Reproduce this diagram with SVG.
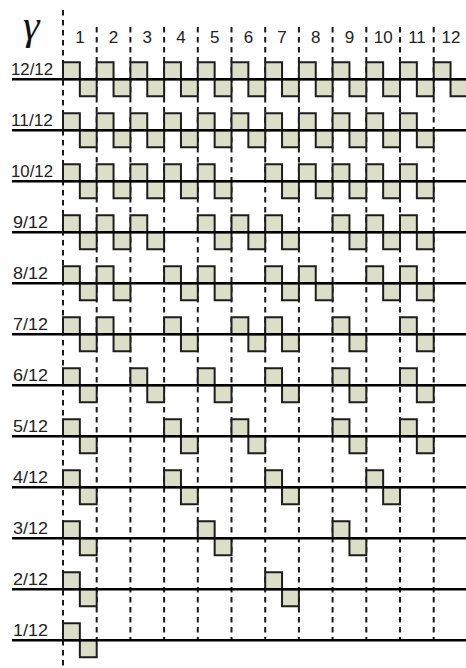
<svg xmlns="http://www.w3.org/2000/svg" xmlns:xlink="http://www.w3.org/1999/xlink" width="466" height="668" viewBox="0 0 466 668">
<style>
.dash{stroke:#1a1a1a;stroke-width:2;stroke-dasharray:5.5 4.5;fill:none}
.base{stroke:#000;stroke-width:2.5;fill:none}
.lbl{font-family:"Liberation Sans",Arial,sans-serif;font-size:16.5px;fill:#222}
.num{font-family:"Liberation Sans",Arial,sans-serif;font-size:17px;fill:#222;text-anchor:middle}
.gam{font-family:"Liberation Serif","Times New Roman",serif;font-style:italic;font-size:42px;fill:#111}
</style>
<defs>
<path id="p" d="M0,0 V-17 H16.85 V17 H33.7 V0 Z" fill="#dcdec8" stroke="#1e1e1e" stroke-width="2" stroke-linejoin="miter"/>
</defs>
<rect width="466" height="668" fill="#fff"/>
<g id="grid">
<line class="dash" x1="63" y1="10" x2="63" y2="668"/>
<line class="dash" x1="96.7" y1="27" x2="96.7" y2="640"/>
<line class="dash" x1="130.4" y1="27" x2="130.4" y2="640"/>
<line class="dash" x1="164.1" y1="27" x2="164.1" y2="640"/>
<line class="dash" x1="197.8" y1="27" x2="197.8" y2="640"/>
<line class="dash" x1="231.5" y1="27" x2="231.5" y2="640"/>
<line class="dash" x1="265.2" y1="27" x2="265.2" y2="640"/>
<line class="dash" x1="298.9" y1="27" x2="298.9" y2="640"/>
<line class="dash" x1="332.6" y1="27" x2="332.6" y2="640"/>
<line class="dash" x1="366.3" y1="27" x2="366.3" y2="640"/>
<line class="dash" x1="400" y1="27" x2="400" y2="640"/>
<line class="dash" x1="433.7" y1="27" x2="433.7" y2="640"/>
</g>
<g id="header">
<text class="gam" x="23" y="39">γ</text>
<text class="num" x="79.9" y="42.5">1</text>
<text class="num" x="113.6" y="42.5">2</text>
<text class="num" x="147.3" y="42.5">3</text>
<text class="num" x="181" y="42.5">4</text>
<text class="num" x="214.7" y="42.5">5</text>
<text class="num" x="248.4" y="42.5">6</text>
<text class="num" x="282.1" y="42.5">7</text>
<text class="num" x="315.8" y="42.5">8</text>
<text class="num" x="349.5" y="42.5">9</text>
<text class="num" x="383.2" y="42.5">10</text>
<text class="num" x="417" y="42.5">11</text>
<text class="num" x="451" y="42.5">12</text>
</g>
<g id="row12">
<use xlink:href="#p" x="63" y="79.2"/><use xlink:href="#p" x="96.7" y="79.2"/><use xlink:href="#p" x="130.4" y="79.2"/><use xlink:href="#p" x="164.1" y="79.2"/><use xlink:href="#p" x="197.8" y="79.2"/><use xlink:href="#p" x="231.5" y="79.2"/><use xlink:href="#p" x="265.2" y="79.2"/><use xlink:href="#p" x="298.9" y="79.2"/><use xlink:href="#p" x="332.6" y="79.2"/><use xlink:href="#p" x="366.3" y="79.2"/><use xlink:href="#p" x="400" y="79.2"/><use xlink:href="#p" x="433.7" y="79.2"/>
<line class="base" x1="12" y1="79.2" x2="466" y2="79.2"/>
<text class="lbl" x="11" y="75" textLength="42" lengthAdjust="spacingAndGlyphs">12/12</text>
</g>
<g id="row11">
<use xlink:href="#p" x="63" y="130.2"/><use xlink:href="#p" x="96.7" y="130.2"/><use xlink:href="#p" x="130.4" y="130.2"/><use xlink:href="#p" x="164.1" y="130.2"/><use xlink:href="#p" x="197.8" y="130.2"/><use xlink:href="#p" x="231.5" y="130.2"/><use xlink:href="#p" x="265.2" y="130.2"/><use xlink:href="#p" x="298.9" y="130.2"/><use xlink:href="#p" x="332.6" y="130.2"/><use xlink:href="#p" x="366.3" y="130.2"/><use xlink:href="#p" x="400" y="130.2"/>
<line class="base" x1="12" y1="130.2" x2="466" y2="130.2"/>
<text class="lbl" x="11" y="126" textLength="42" lengthAdjust="spacingAndGlyphs">11/12</text>
</g>
<g id="row10">
<use xlink:href="#p" x="63" y="181.2"/><use xlink:href="#p" x="96.7" y="181.2"/><use xlink:href="#p" x="130.4" y="181.2"/><use xlink:href="#p" x="164.1" y="181.2"/><use xlink:href="#p" x="197.8" y="181.2"/><use xlink:href="#p" x="265.2" y="181.2"/><use xlink:href="#p" x="298.9" y="181.2"/><use xlink:href="#p" x="332.6" y="181.2"/><use xlink:href="#p" x="366.3" y="181.2"/><use xlink:href="#p" x="400" y="181.2"/>
<line class="base" x1="12" y1="181.2" x2="466" y2="181.2"/>
<text class="lbl" x="11" y="177" textLength="42" lengthAdjust="spacingAndGlyphs">10/12</text>
</g>
<g id="row9">
<use xlink:href="#p" x="63" y="232.2"/><use xlink:href="#p" x="96.7" y="232.2"/><use xlink:href="#p" x="130.4" y="232.2"/><use xlink:href="#p" x="197.8" y="232.2"/><use xlink:href="#p" x="231.5" y="232.2"/><use xlink:href="#p" x="265.2" y="232.2"/><use xlink:href="#p" x="332.6" y="232.2"/><use xlink:href="#p" x="366.3" y="232.2"/><use xlink:href="#p" x="400" y="232.2"/>
<line class="base" x1="12" y1="232.2" x2="466" y2="232.2"/>
<text class="lbl" x="13" y="228" textLength="35" lengthAdjust="spacingAndGlyphs">9/12</text>
</g>
<g id="row8">
<use xlink:href="#p" x="63" y="283.2"/><use xlink:href="#p" x="96.7" y="283.2"/><use xlink:href="#p" x="164.1" y="283.2"/><use xlink:href="#p" x="197.8" y="283.2"/><use xlink:href="#p" x="265.2" y="283.2"/><use xlink:href="#p" x="298.9" y="283.2"/><use xlink:href="#p" x="366.3" y="283.2"/><use xlink:href="#p" x="400" y="283.2"/>
<line class="base" x1="12" y1="283.2" x2="466" y2="283.2"/>
<text class="lbl" x="13" y="279" textLength="35" lengthAdjust="spacingAndGlyphs">8/12</text>
</g>
<g id="row7">
<use xlink:href="#p" x="63" y="334.2"/><use xlink:href="#p" x="96.7" y="334.2"/><use xlink:href="#p" x="164.1" y="334.2"/><use xlink:href="#p" x="231.5" y="334.2"/><use xlink:href="#p" x="265.2" y="334.2"/><use xlink:href="#p" x="332.6" y="334.2"/><use xlink:href="#p" x="400" y="334.2"/>
<line class="base" x1="12" y1="334.2" x2="466" y2="334.2"/>
<text class="lbl" x="13" y="330" textLength="35" lengthAdjust="spacingAndGlyphs">7/12</text>
</g>
<g id="row6">
<use xlink:href="#p" x="63" y="385.2"/><use xlink:href="#p" x="130.4" y="385.2"/><use xlink:href="#p" x="197.8" y="385.2"/><use xlink:href="#p" x="265.2" y="385.2"/><use xlink:href="#p" x="332.6" y="385.2"/><use xlink:href="#p" x="400" y="385.2"/>
<line class="base" x1="12" y1="385.2" x2="466" y2="385.2"/>
<text class="lbl" x="13" y="381" textLength="35" lengthAdjust="spacingAndGlyphs">6/12</text>
</g>
<g id="row5">
<use xlink:href="#p" x="63" y="436.2"/><use xlink:href="#p" x="164.1" y="436.2"/><use xlink:href="#p" x="231.5" y="436.2"/><use xlink:href="#p" x="332.6" y="436.2"/><use xlink:href="#p" x="400" y="436.2"/>
<line class="base" x1="12" y1="436.2" x2="466" y2="436.2"/>
<text class="lbl" x="13" y="432" textLength="35" lengthAdjust="spacingAndGlyphs">5/12</text>
</g>
<g id="row4">
<use xlink:href="#p" x="63" y="487.2"/><use xlink:href="#p" x="164.1" y="487.2"/><use xlink:href="#p" x="265.2" y="487.2"/><use xlink:href="#p" x="366.3" y="487.2"/>
<line class="base" x1="12" y1="487.2" x2="466" y2="487.2"/>
<text class="lbl" x="13" y="483" textLength="35" lengthAdjust="spacingAndGlyphs">4/12</text>
</g>
<g id="row3">
<use xlink:href="#p" x="63" y="538.2"/><use xlink:href="#p" x="197.8" y="538.2"/><use xlink:href="#p" x="332.6" y="538.2"/>
<line class="base" x1="12" y1="538.2" x2="466" y2="538.2"/>
<text class="lbl" x="13" y="534" textLength="35" lengthAdjust="spacingAndGlyphs">3/12</text>
</g>
<g id="row2">
<use xlink:href="#p" x="63" y="589.2"/><use xlink:href="#p" x="265.2" y="589.2"/>
<line class="base" x1="12" y1="589.2" x2="466" y2="589.2"/>
<text class="lbl" x="13" y="585" textLength="35" lengthAdjust="spacingAndGlyphs">2/12</text>
</g>
<g id="row1">
<use xlink:href="#p" x="63" y="640.2"/>
<line class="base" x1="12" y1="640.2" x2="466" y2="640.2"/>
<text class="lbl" x="13" y="636" textLength="35" lengthAdjust="spacingAndGlyphs">1/12</text>
</g>
</svg>
